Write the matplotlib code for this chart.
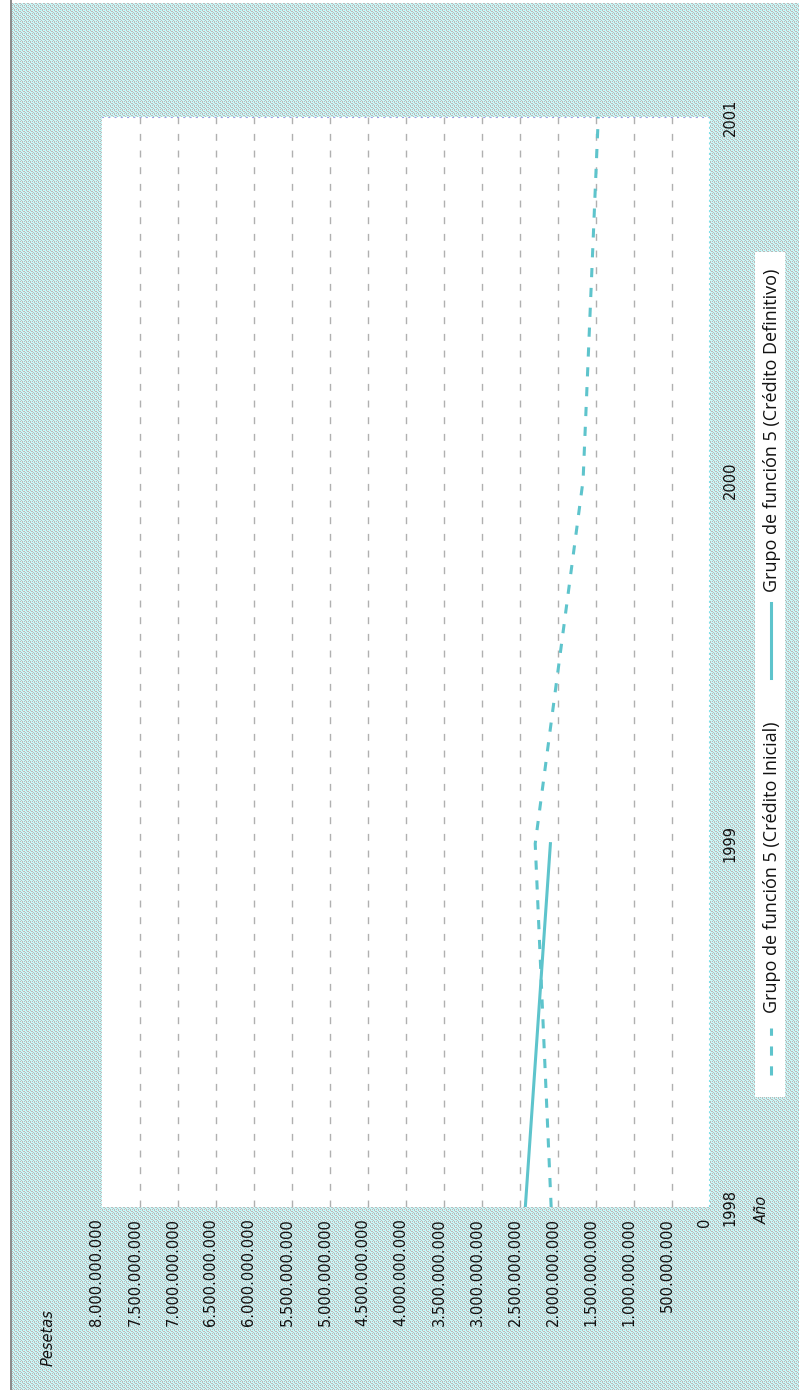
import numpy as np
import matplotlib
matplotlib.use('Agg')
import matplotlib.pyplot as plt
from matplotlib.lines import Line2D
from matplotlib.patches import Rectangle
from matplotlib.transforms import ScaledTranslation

# datos
anios = [1998, 1999, 2000, 2001]
credito_inicial = [2.09e9, 2.30e9, 1.67e9, 1.47e9]
anios_def = [1998, 1999]
credito_definitivo = [2.43e9, 2.10e9]
valores_ticks = list(range(0, 8_500_000_000, 500_000_000))
etiqueta_inicial = 'Grupo de función 5 (Crédito Inicial)'
etiqueta_definitivo = 'Grupo de función 5 (Crédito Definitivo)'

W, H = 799, 1390
color_linea = '#5ec4cc'
color_texto = '#111111'

fig = plt.figure(figsize=(W / 100, H / 100), dpi=100)
fig.patch.set_facecolor('white')


def fx(x):
    return x / W


def fy(y):
    return 1 - y / H


# fondo con trama (cian / gris)
C = [190, 250, 250]
G = [186, 186, 186]
L = [222, 242, 242]
tile = np.array([
    [C, G, C, L],
    [G, L, G, C],
    [C, C, G, L],
    [G, L, C, G],
], dtype=np.uint8)
fondo = np.tile(tile, (H // 4 + 1, W // 4 + 1, 1))[:H, :W].copy()
fondo[:3, :] = 255
fondo[:, :10] = 255
fondo[:, 10:12] = [140, 140, 140]
fig.figimage(fondo, xo=0, yo=0, zorder=-10, origin='upper')

# area de trazado (girada 90 grados)
ax = fig.add_axes([fx(102), fy(1207), fx(710) - fx(102), fy(117) - fy(1207)])
ax.set_facecolor('white')
ax.set_xlim(8e9, 0)
ax.set_ylim(1998, 2001)

for v in valores_ticks[1:-1]:
    ax.axvline(v, color='#b0b0b0', lw=1, ls=(0, (5, 7)), zorder=1)

ax.plot(credito_inicial, anios, color=color_linea, lw=2.2, ls=(0, (3, 3.5)), zorder=3)
ax.plot(credito_definitivo, anios_def, color=color_linea, lw=2.2, zorder=3)

for s in ax.spines.values():
    s.set_visible(False)
ax.axhline(2001, color='#a0a0e0', lw=1.5, ls=(0, (1, 2)), zorder=2)
ax.axvline(0, color='#80e0e8', lw=1.5, ls=(0, (1, 1.5)), zorder=2)

ax.set_xticks(valores_ticks)
ax.set_xticklabels([f"{v:,}".replace(',', '.') for v in valores_ticks],
                   rotation=90, ha='center', va='top', fontsize=10.5, color=color_texto)
ax.tick_params(axis='x', length=0, pad=8)
offset = ScaledTranslation(-5 / 100, 0, fig.dpi_scale_trans)
for lab in ax.get_xticklabels():
    lab.set_transform(lab.get_transform() + offset)

ax.yaxis.tick_right()
ax.set_yticks(anios)
ax.set_yticklabels([str(a) for a in anios], rotation=90, va='center', ha='left',
                   fontsize=10.5, color=color_texto)
ax.tick_params(axis='y', length=0, pad=9)

# titulos de ejes
fig.text(fx(762), fy(1224), 'Año', rotation=90, ha='center', va='bottom',
         fontsize=10.5, style='italic', color=color_texto)
fig.text(fx(48), fy(1366), 'Pesetas', rotation=90, ha='center', va='bottom',
         fontsize=10.5, style='italic', color=color_texto)

# leyenda dibujada a mano (vertical)
fig.add_artist(Rectangle((fx(755), fy(1097)), fx(785) - fx(755), fy(252) - fy(1097),
                         transform=fig.transFigure, facecolor='white', edgecolor='none'))
fig.add_artist(Line2D([fx(771), fx(771)], [fy(1075), fy(1028)], transform=fig.transFigure,
                      color=color_linea, lw=2.2, ls=(0, (3, 3.5))))
fig.text(fx(772), fy(1013), etiqueta_inicial, rotation=90, ha='center', va='bottom',
         fontsize=13, family='Open Sans', color=color_texto)
fig.add_artist(Line2D([fx(771), fx(771)], [fy(678), fy(603)], transform=fig.transFigure,
                      color=color_linea, lw=2.2))
fig.text(fx(772), fy(592), etiqueta_definitivo, rotation=90, ha='center', va='bottom',
         fontsize=13, family='Open Sans', color=color_texto)

fig.savefig('out.png', dpi=100)
